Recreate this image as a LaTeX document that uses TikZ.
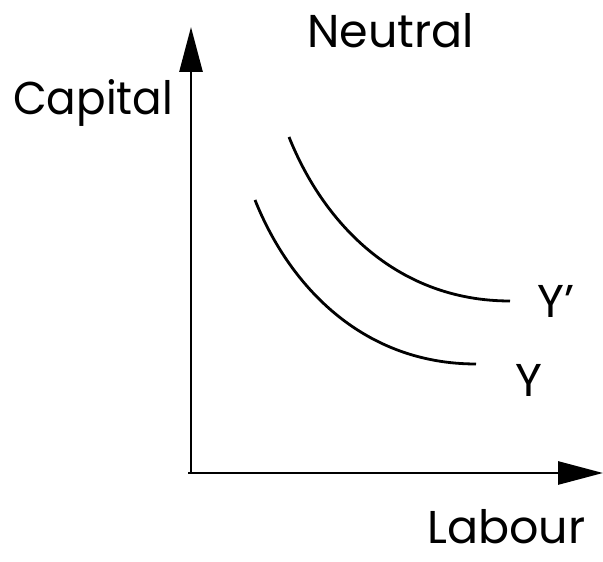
\documentclass[tikz,border=0pt]{standalone}
\usepackage{fontspec}
\setmainfont{Poppins}
\usetikzlibrary{arrows.meta}
\begin{document}
\begin{tikzpicture}[x=1pt,y=1pt,
  axis/.style={line width=2.8pt,-{Triangle[length=45pt,width=23pt]}},
  curve/.style={line width=2.8pt},
  lbl/.style={inner sep=0pt,anchor=base west,font=\fontsize{46}{48}\selectfont}]
\useasboundingbox (0,0) rectangle (603,562);
\coordinate (o) at (191,89);
\coordinate (ytop) at (191,535);
\coordinate (xend) at (603,89);
\draw[axis] (o) -- (ytop);
\draw[axis] ([xshift=-3pt]o) -- (xend);
\draw[curve] (289,425) .. controls (325,335) and (400,261) .. (510,261) coordinate (yp);
\draw[curve] (255,362) .. controls (291,272) and (366,198) .. (476,198) coordinate (y);
\node[lbl,xscale=0.95] (cap) at (13,447) {Capital};
\node[lbl] (neu) at (307,514) {Neutral};
\node[lbl] (lab) at (427,18) {Labour};
\node[lbl] (lyp) at (537,244) {Y’};
\node[lbl] (ly) at (515,165) {Y};
\end{tikzpicture}
\end{document}
